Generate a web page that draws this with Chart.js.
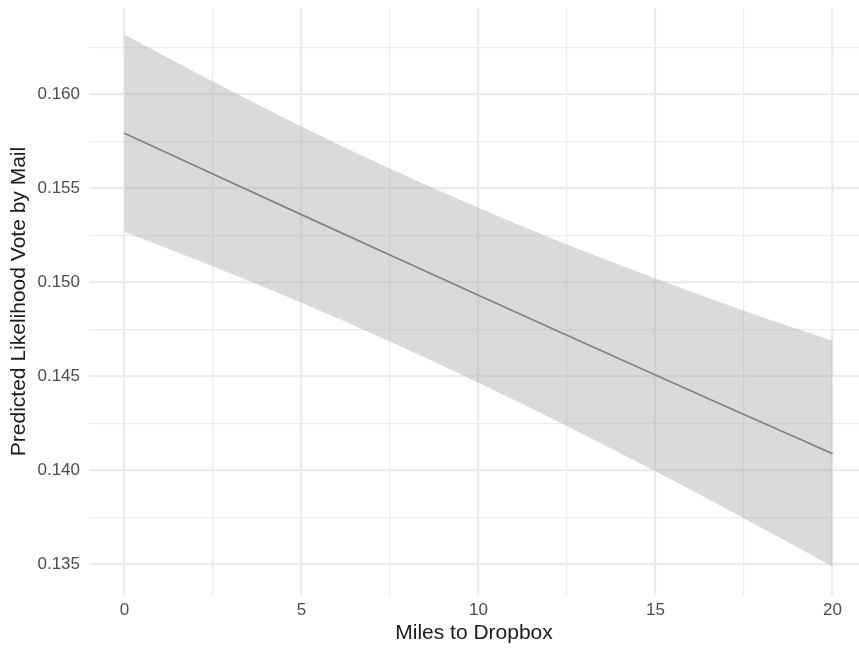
<!DOCTYPE html>
<html>
<head>
<meta charset="utf-8">
<script src="https://cdn.jsdelivr.net/npm/chart.js@4/dist/chart.umd.min.js"></script>
<style>
  html,body{margin:0;padding:0;background:#fff;}
  #wrap{width:859px;height:650px;position:relative;}
</style>
</head>
<body>
<div id="wrap"><canvas id="myChart"></canvas></div>
<script>
// values
var miles     = [0, 2.5, 5, 7.5, 10, 12.5, 15, 17.5, 20];
var predicted = [0.15793, 0.15576, 0.15360, 0.15145, 0.14931, 0.14718, 0.14507, 0.14297, 0.14089];
var upperCI   = [0.16318, 0.16068, 0.15829, 0.15605, 0.15396, 0.15201, 0.15020, 0.14849, 0.14689];
var lowerCI   = [0.15269, 0.15085, 0.14891, 0.14685, 0.14466, 0.14236, 0.13995, 0.13745, 0.13489];

var xTicks = [0, 2.5, 5, 7.5, 10, 12.5, 15, 17.5, 20];
var yTicks = [0.135, 0.1375, 0.14, 0.1425, 0.145, 0.1475, 0.15, 0.1525, 0.155, 0.1575, 0.16, 0.1625];

function pts(ys){
  return miles.map(function(m,i){ return {x:m, y:ys[i]}; });
}
function isMajorX(v){ return Math.abs(v/5 - Math.round(v/5)) < 1e-6; }
function isMajorY(v){ return Math.abs(v*200 - Math.round(v*200)) < 1e-6; }

var fontFam = '"Liberation Sans", Arial, Helvetica, sans-serif';

var ctx = document.getElementById('myChart');
var myChart = new Chart(ctx, {
  type: 'line',
  data: {
    datasets: [{
        label: 'upper',
        data: pts(upperCI),
        borderWidth: 0,
        pointRadius: 0,
        backgroundColor: 'rgba(170,172,178,0.45)',
        fill: '+1',
        cubicInterpolationMode: 'monotone'
      },{
        label: 'lower',
        data: pts(lowerCI),
        borderWidth: 0,
        pointRadius: 0,
        fill: false,
        cubicInterpolationMode: 'monotone'
      },{
        label: 'predicted',
        data: pts(predicted),
        borderColor: '#5e5e5e',
        borderWidth: 1.7,
        pointRadius: 0,
        fill: false,
        cubicInterpolationMode: 'monotone'
    }]
  },
  options: {
    responsive: true,
    maintainAspectRatio: false,
    animation: false,
    layout: { padding: { left: 0, top: 8, right: 0, bottom: 0 } },
    plugins: {
      legend: { display: false },
      tooltip: { enabled: false }
    },
    scales: {
      x: {
        type: 'linear',
        min: -1,
        max: 20.75,
        afterBuildTicks: function(scale){
          scale.ticks = xTicks.map(function(v){ return {value:v}; });
        },
        afterFit: function(scale){
          scale.height = 55;
          scale.paddingLeft = 0;
          scale.paddingRight = 0;
        },
        border: { display: false },
        grid: {
          color: '#ebebeb',
          drawTicks: false,
          lineWidth: function(c){ return isMajorX(c.tick.value) ? 2.2 : 1.2; }
        },
        ticks: {
          padding: 5,
          color: '#4d4d4d',
          font: { family: fontFam, size: 17 },
          maxRotation: 0,
          autoSkip: false,
          callback: function(v){ return isMajorX(v) ? String(v) : ''; }
        },
        title: {
          display: true,
          text: 'Miles to Dropbox',
          color: '#1a1a1a',
          font: { family: fontFam, size: 21 },
          padding: { top: 4, bottom: 4 }
        }
      },
      y: {
        type: 'linear',
        min: 0.13337,
        max: 0.16459,
        afterBuildTicks: function(scale){
          scale.ticks = yTicks.map(function(v){ return {value:v}; });
        },
        afterFit: function(scale){
          scale.width = 89;
          scale.paddingTop = 0;
          scale.paddingBottom = 0;
        },
        border: { display: false },
        grid: {
          color: '#ebebeb',
          drawTicks: false,
          lineWidth: function(c){ return isMajorY(c.tick.value) ? 2.2 : 1.2; }
        },
        ticks: {
          padding: 9,
          color: '#4d4d4d',
          font: { family: fontFam, size: 17 },
          autoSkip: false,
          callback: function(v){ return isMajorY(v) ? v.toFixed(3) : ''; }
        },
        title: {
          display: true,
          text: 'Predicted Likelihood Vote by Mail',
          color: '#1a1a1a',
          font: { family: fontFam, size: 21 },
          padding: { top: 7, bottom: 0 }
        }
      }
    }
  }
});
</script>
</body>
</html>
